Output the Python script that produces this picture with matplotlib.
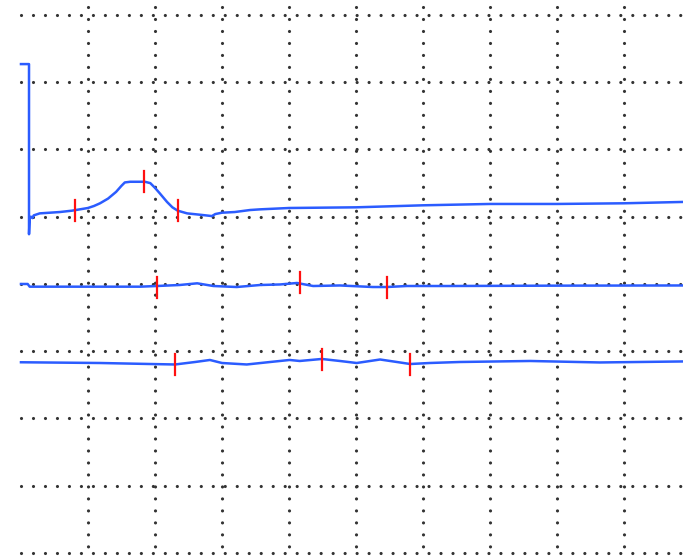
import numpy as np
import matplotlib
matplotlib.use("Agg")
import matplotlib.pyplot as plt

plt.rcParams['lines.scale_dashes'] = False

# traces, in grid divisions (x = time, y = level)
t1_x = [0, 0.12, 0.12, 0.13, 0.15, 0.17, 0.19, 0.28, 0.58, 0.76, 1.0, 1.09, 1.18,
        1.30, 1.42, 1.50, 1.55, 1.63, 1.85, 1.93, 2.0, 2.07, 2.18, 2.26, 2.34, 2.48,
        2.67, 2.85, 2.9, 3.0, 3.19, 3.42, 3.57, 4.0, 5.0, 6.0, 7.0, 8.0, 9.0, 9.88]
t1_y = [7.27, 7.27, 4.74, 4.99, 5.00, 4.98, 5.02, 5.05, 5.07, 5.09, 5.13, 5.16, 5.20,
        5.27, 5.37, 5.46, 5.51, 5.52, 5.52, 5.50, 5.43, 5.35, 5.22, 5.14, 5.09, 5.05,
        5.03, 5.01, 5.04, 5.06, 5.07, 5.10, 5.11, 5.13, 5.14, 5.17, 5.19, 5.19, 5.20,
        5.22]

t2_x = [0, 0.10, 0.13, 1.18, 1.78, 2.03, 2.37, 2.63, 2.87, 3.22, 3.57, 3.87, 4.12,
        4.36, 4.76, 5.25, 5.46, 5.76, 6.40, 7.90, 9.88]
t2_y = [4.00, 4.00, 3.96, 3.96, 3.96, 3.97, 3.985, 4.01, 3.97, 3.955, 3.985, 3.993,
        4.015, 3.97, 3.978, 3.955, 3.955, 3.97, 3.97, 3.975, 3.978]

t3_x = [0, 1.18, 1.93, 2.30, 2.60, 2.82, 3.0, 3.37, 3.72, 4.01, 4.16, 4.49, 4.76,
        5.01, 5.36, 5.61, 5.81, 6.10, 6.55, 7.60, 8.64, 9.88]
t3_y = [2.836, 2.825, 2.81, 2.803, 2.84, 2.87, 2.825, 2.803, 2.84, 2.87, 2.855,
        2.885, 2.855, 2.825, 2.877, 2.84, 2.81, 2.825, 2.84, 2.855, 2.833, 2.848]

# red markers (x, centre y)
mark_x = [0.81, 1.84, 2.34, 2.03, 4.16, 5.46, 2.30, 4.49, 5.81]
mark_y = [5.09, 5.52, 5.09, 3.955, 4.02, 3.95, 2.80, 2.88, 2.80]

fig = plt.figure(figsize=(6.83, 5.56), dpi=100)
ax = fig.add_axes([0, 0, 1, 1])
ax.set_xlim(-0.313, 9.881)
ax.set_ylim(-0.045, 8.223)
ax.axis('off')

dots = dict(color='#333333', lw=2.3, linestyle=(0, (0.01, 8.62)),
            dash_capstyle='round', zorder=1)
for gy in range(9):
    ax.plot([0, 9.881], [gy, gy], **dots)
for gx in range(1, 10):
    ax.plot([gx, gx], [8.114, -0.045], **dots)

blue = '#2b5cff'
ax.plot(t1_x, t1_y, color=blue, lw=1.8, zorder=2)
ax.plot(t2_x, t2_y, color=blue, lw=1.8, zorder=2)
ax.plot(t3_x, t3_y, color=blue, lw=1.8, zorder=2)

for mx, my in zip(mark_x, mark_y):
    ax.plot([mx, mx], [my - 0.156, my + 0.156], color='#ff1010', lw=1.6, zorder=3)

fig.savefig('out.png', dpi=100)
